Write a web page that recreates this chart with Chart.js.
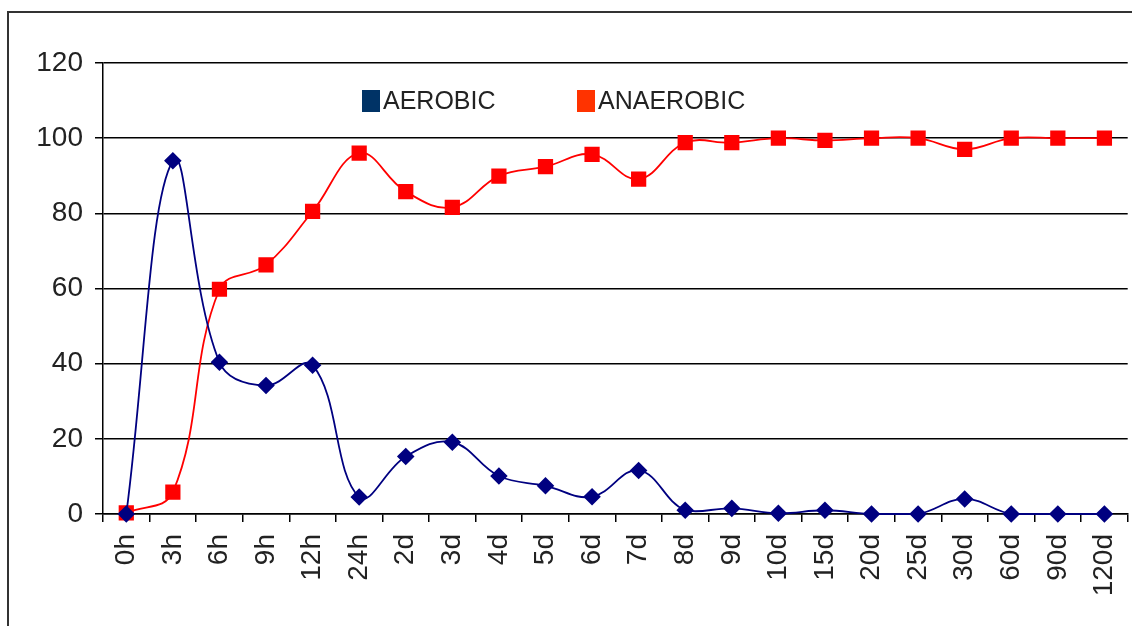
<!DOCTYPE html>
<html lang="en">
<head>
    <meta charset="UTF-8">
    <title>Aerobic / Anaerobic</title>
    <script src="https://cdn.jsdelivr.net/npm/chart.js"></script>
    <style>
        body { margin: 0; background: #fff; overflow: hidden; }
        .wrap { position: relative; width: 1132px; height: 626px; overflow: hidden; }
        .frame { position: absolute; left: 7px; top: 11px; width: 1200px; height: 700px; border: 2px solid #333; }
        .legenda { position: absolute; top: 88px; font-family: "Liberation Sans", Arial, sans-serif; font-size: 25px; color: #222; line-height: 25px; }
        .legenda span.box { display: inline-block; width: 18px; height: 22px; vertical-align: -3px; margin-right: 3px; }
    </style>
</head>
<body>
    <div class="wrap">
        <div class="frame"></div>
        <!-- canvas um pouco mais largo: a margem que o Chart.js reserva à direita fica fora da janela -->
        <canvas id="grafico" width="1139" height="626"></canvas>
        <div class="legenda" style="left:362px"><span class="box" style="background:#003366"></span>AEROBIC</div>
        <div class="legenda" style="left:577px"><span class="box" style="background:#FF3300"></span>ANAEROBIC</div>
    </div>

    <script>
        const categorias = ['0h', '3h', '6h', '9h', '12h', '24h', '2d', '3d', '4d', '5d', '6d', '7d',
            '8d', '9d', '10d', '15d', '20d', '25d', '30d', '60d', '90d', '120d'];
        const aerobic = [0, 94, 40.4, 34.2, 39.6, 4.5, 15.3, 19.1, 10.1, 7.5, 4.6, 11.6,
            1, 1.5, 0.2, 1, 0, 0, 4, 0, 0, 0];
        const anaerobic = [0.3, 5.8, 59.8, 66.3, 80.5, 96, 85.8, 81.6, 89.9, 92.4, 95.7, 89.1,
            98.8, 98.8, 100, 99.4, 100, 100, 97, 100, 100, 100];
        const yTicks = [0, 20, 40, 60, 80, 100, 120];

        const fonte = { family: '"Liberation Sans", Arial, sans-serif', size: 28 };

        new Chart(document.getElementById('grafico'), {
            type: 'line',
            data: {
                labels: categorias,
                datasets: [{
                    label: 'AEROBIC',
                    data: aerobic,
                    borderColor: '#000080',
                    backgroundColor: '#000080',
                    borderWidth: 1.8,
                    pointStyle: 'rectRot',
                    pointRadius: 7.5,
                    tension: 0.4,
                    clip: false,
                    fill: false
                }, {
                    label: 'ANAEROBIC',
                    data: anaerobic,
                    borderColor: '#FF0000',
                    backgroundColor: '#FF0000',
                    borderWidth: 1.8,
                    pointStyle: 'rect',
                    pointRadius: 9.5,
                    tension: 0.4,
                    clip: false,
                    fill: false
                }]
            },
            options: {
                responsive: false,
                animation: false,
                layout: { padding: { top: 63, right: 4, left: 0, bottom: 0 } },
                plugins: { legend: { display: false }, tooltip: { enabled: false } },
                scales: {
                    x: {
                        offset: true,
                        grid: { offset: true, drawOnChartArea: false, drawTicks: true, tickLength: 8, color: '#000', lineWidth: 1.5 },
                        border: { display: true, color: '#000', width: 1.5 },
                        ticks: { color: '#222', font: fonte, minRotation: 90, maxRotation: 90, padding: 12, autoSkip: false },
                        afterFit: (scale) => {
                            scale.height = 112;
                            scale.paddingLeft = 0;
                            scale.paddingRight = 0;
                        }
                    },
                    y: {
                        min: 0,
                        max: 120,
                        afterBuildTicks: (scale) => { scale.ticks = yTicks.map(v => ({ value: v })); },
                        grid: { color: '#000', lineWidth: 1.5, tickLength: 8 },
                        border: { display: true, color: '#000', width: 1.5 },
                        ticks: { color: '#222', font: fonte, padding: 12 },
                        afterFit: (scale) => { scale.width = 103; }
                    }
                }
            }
        });
    </script>
</body>
</html>
